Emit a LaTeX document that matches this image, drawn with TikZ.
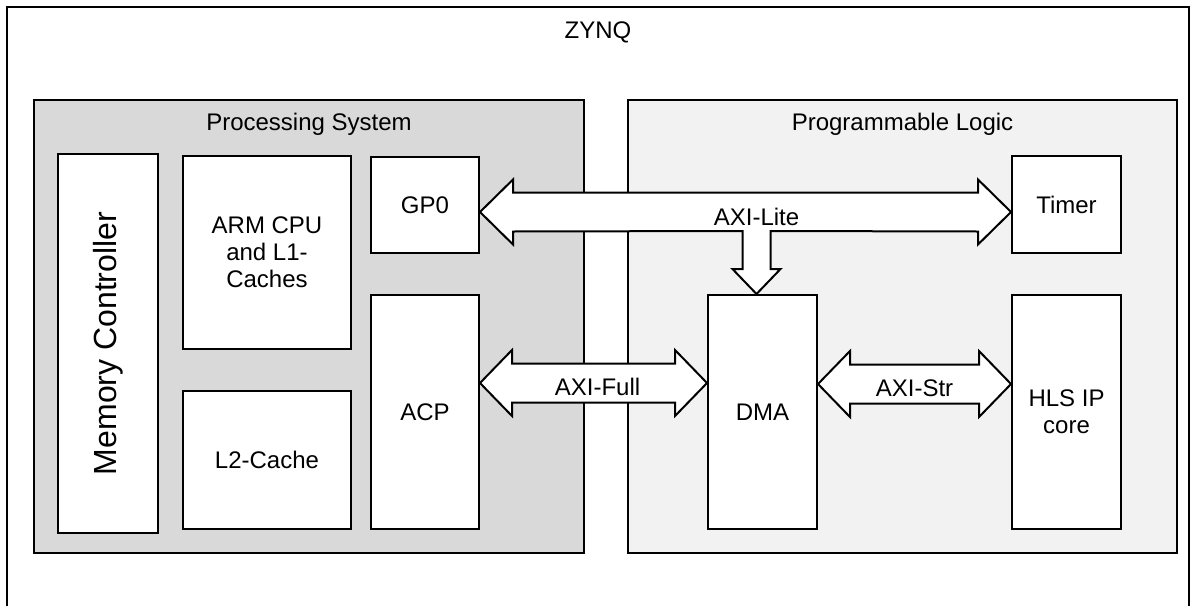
\documentclass[tikz,border=0pt]{standalone}
\usepackage{fontspec}
\setmainfont{Liberation Sans}
\usetikzlibrary{calc, positioning}
\definecolor{psgray}{HTML}{D9D9D9}
\definecolor{plgray}{HTML}{F2F2F2}
\tikzstyle{region} = [rectangle, draw=black, line width=1pt, inner sep=0pt]
\tikzstyle{block} = [rectangle, draw=black, fill=white, line width=1pt, inner sep=0pt, text centered, align=center, font=\fontsize{12}{13.5}\selectfont]
\tikzstyle{caption} = [font=\fontsize{12}{13.5}\selectfont]
\tikzstyle{bus} = [draw=black, fill=white, line width=1pt, line join=miter]

\begin{document}
\begin{tikzpicture}[x=0.5pt, y=-0.5pt]
	\useasboundingbox (0,0) rectangle (1192,605);
	\clip (0,0) rectangle (1192,605);
	\draw [line width=1pt] (7,7) rectangle (1189,640);
	\node (zynq) [caption] at (598,32) {ZYNQ};

	\node (ps) [region, fill=psgray, minimum width=275pt, minimum height=226.5pt] at (309,326.5) {};
	\node (pl) [region, fill=plgray, minimum width=274.5pt, minimum height=226.5pt] at (902.5,326.5) {};
	\node (pstitle) [caption] at ($(ps.north)+(0,25)$) {Processing System};
	\node (pltitle) [caption] at ($(pl.north)+(0,25)$) {Programmable Logic};

	\node (memctrl) [block, rotate=90, minimum width=189.5pt, minimum height=50pt, font=\fontsize{16}{18}\selectfont] at (108,343.5) {Memory Controller};
	\node (arm) [block, minimum width=84pt, minimum height=96.5pt] at (267,252.5) {ARM CPU\\and L1-\\Caches};
	\node (l2) [block, minimum width=84pt, minimum height=69pt] at (267,460) {L2-Cache};
	\node (gp0) [block, minimum width=54pt, minimum height=48pt] at (425,205) {GP0};
	\node (acp) [block, minimum width=54pt, minimum height=117pt] at (425,412) {ACP};

	\node (dma) [block, minimum width=54.5pt, minimum height=117pt] at (762.5,412) {DMA};
	\node (timer) [block, minimum width=54.5pt, minimum height=48.5pt] at (1066.5,204.5) {Timer};
	\node (hls) [block, minimum width=54.5pt, minimum height=117pt] at (1066.5,412) {HLS IP\\core};

	% AXI-Lite: GP0 <-> Timer, branch down to DMA
	\coordinate (liteL) at ($(gp0.east)+(0,7)$);
	\coordinate (liteR) at ($(timer.west)+(0,7.5)$);
	\coordinate (tip) at ($(dma.north)+(-6,0)$);
	\draw [bus] (liteL) -- ++(33,-32.5) -- ++(0,13) -- ($(liteR)+(-33,-19.5)$) -- ++(0,-13) -- (liteR)
		-- ++(-33,32.5) -- ++(0,-13) -- ($(tip)+(14,-63)$) -- ++(0,38) -- ++(10,0) -- (tip)
		-- ++(-24,-25) -- ++(10,0) -- ++(0,-38) -- ($(liteL)+(33,19.5)$) -- ++(0,13) -- cycle;
	\node (lite) [caption] at ($(tip |- liteL)+(0,5)$) {AXI-Lite};

	% AXI-Full: ACP <-> DMA
	\coordinate (fullL) at ($(acp.east)+(0,-29)$);
	\coordinate (fullR) at ($(dma.west)+(0,-29)$);
	\draw [bus] (fullL) -- ++(32,-33) -- ++(0,13.5) -- ($(fullR)+(-32,-19.5)$) -- ++(0,-13.5) -- (fullR)
		-- ++(-32,33) -- ++(0,-13.5) -- ($(fullL)+(32,19.5)$) -- ++(0,13.5) -- cycle;
	\node (full) [caption] at ($(fullL)!0.5!(fullR)+(4,4)$) {AXI-Full};

	% AXI-Str: DMA <-> HLS IP core
	\coordinate (strL) at ($(dma.east)+(0,-28)$);
	\coordinate (strR) at ($(hls.west)+(0,-28)$);
	\draw [bus] (strL) -- ++(32,-33) -- ++(0,13.5) -- ($(strR)+(-32,-19.5)$) -- ++(0,-13.5) -- (strR)
		-- ++(-32,33) -- ++(0,-13.5) -- ($(strL)+(32,19.5)$) -- ++(0,13.5) -- cycle;
	\node (str) [caption] at ($(strL)!0.5!(strR)+(0,4)$) {AXI-Str};
\end{tikzpicture}
\end{document}
